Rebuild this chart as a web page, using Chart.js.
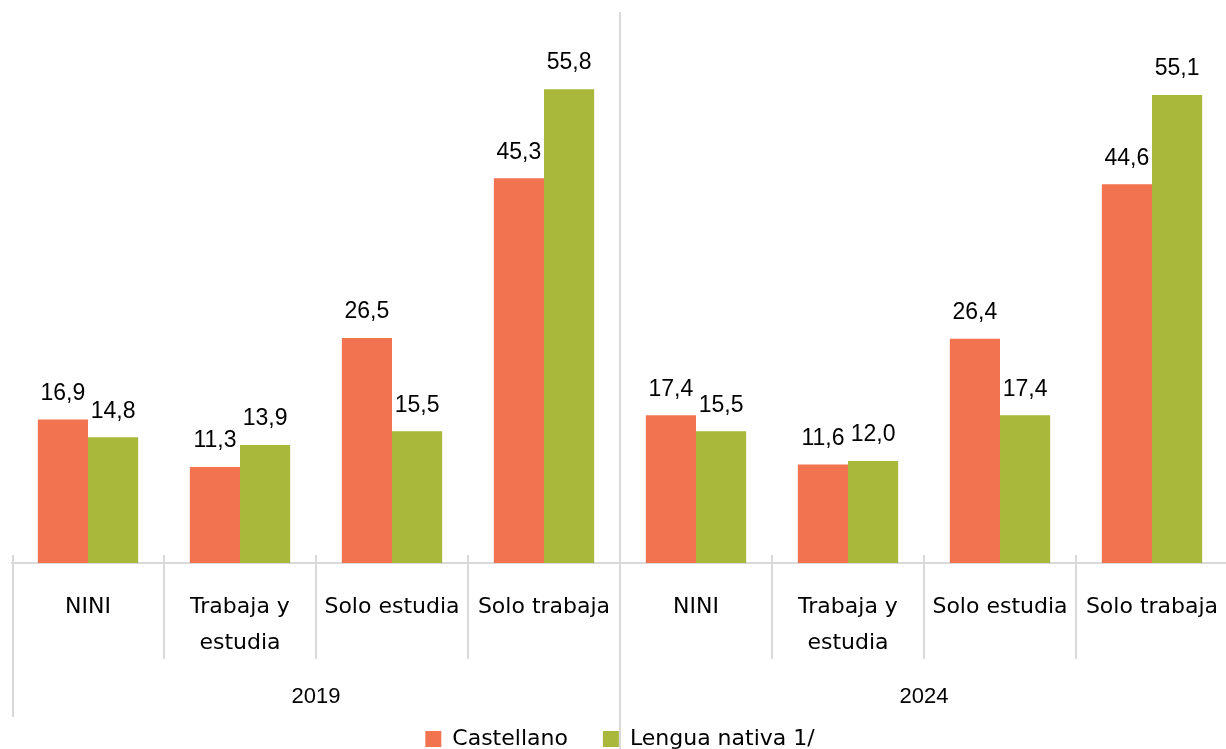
<!DOCTYPE html>
<html>
<head>
<meta charset="utf-8">
<script src="https://cdn.jsdelivr.net/npm/chart.js@4.4.1/dist/chart.umd.min.js"></script>
<style>
  html, body { margin: 0; padding: 0; background: #fff; overflow: hidden; }
  #wrap { position: relative; width: 1228px; height: 760px; }
</style>
</head>
<body>
<div id="wrap"><canvas id="chart"></canvas></div>
<script>
// Datos
const years = ['2019', '2024'];
const categories = ['NINI', ['Trabaja y', 'estudia'], 'Solo estudia', 'Solo trabaja'];
const castellano = [16.9, 11.3, 26.5, 45.3, 17.4, 11.6, 26.4, 44.6];
const nativa = [14.8, 13.9, 15.5, 55.8, 15.5, 12.0, 17.4, 55.1];
const seriesNames = ['Castellano', 'Lengua nativa 1/'];

const ORANGE = '#F2734F';
const GREEN = '#A9B73B';
const LINE = '#d9d9d9';
const labelFont = '"DejaVu Sans", "Noto Sans", sans-serif';
const numFont = '"Liberation Sans", Arial, sans-serif';

const labels = years.flatMap(() => categories);
const fmt = v => v.toFixed(1).replace('.', ',');

// Plugin: etiquetas de datos, separadores y años
const decor = {
  id: 'decor',
  afterDatasetsDraw(chart) {
    const ctx = chart.ctx;
    ctx.save();
    ctx.fillStyle = '#000';
    ctx.font = '23px ' + numFont;
    ctx.textAlign = 'center';
    ctx.textBaseline = 'middle';
    chart.data.datasets.forEach((ds, di) => {
      chart.getDatasetMeta(di).data.forEach((bar, i) => {
        ctx.fillText(fmt(ds.data[i]), bar.x, bar.y - 26);
      });
    });
    ctx.restore();
  },
  afterDraw(chart) {
    const ctx = chart.ctx;
    const xs = chart.scales.x;
    const area = chart.chartArea;
    const half = (xs.getPixelForValue(1) - xs.getPixelForValue(0)) / 2;
    const base = area.bottom;
    const perGroup = categories.length;

    ctx.save();
    ctx.strokeStyle = LINE;
    ctx.lineWidth = 2;
    for (let i = 0; i < labels.length; i++) {
      const x = Math.round(xs.getPixelForValue(i) - half) + (i === 0 ? 1 : 0);
      let y0 = base - 8, y1 = base + 96;
      if (i === 0) y1 = base + 154;
      if (i % perGroup === 0 && i !== 0) { y0 = area.top + 1; y1 = base + 200; }
      ctx.beginPath();
      ctx.moveTo(x, y0);
      ctx.lineTo(x, y1);
      ctx.stroke();
    }

    ctx.fillStyle = '#000';
    ctx.font = '22px ' + numFont;
    ctx.textAlign = 'center';
    ctx.textBaseline = 'middle';
    years.forEach((y, g) => {
      const x = (xs.getPixelForValue(g * perGroup) + xs.getPixelForValue(g * perGroup + perGroup - 1)) / 2;
      ctx.fillText(y, x, base + 134);
    });
    ctx.restore();
  }
};

new Chart(document.getElementById('chart'), {
  type: 'bar',
  data: {
    labels: labels,
    datasets: [
      { label: seriesNames[0], data: castellano, backgroundColor: ORANGE, borderWidth: 0 },
      { label: seriesNames[1], data: nativa, backgroundColor: GREEN, borderWidth: 0 }
    ]
  },
  options: {
    responsive: true,
    maintainAspectRatio: false,
    animation: false,
    layout: { padding: { top: 11, left: 12, right: 0, bottom: 0 } },
    datasets: { bar: { categoryPercentage: 0.66, barPercentage: 1.0 } },
    plugins: {
      legend: {
        position: 'bottom',
        labels: {
          color: '#000',
          font: { size: 22, family: labelFont },
          boxWidth: 16,
          boxHeight: 16,
          padding: 35
        }
      },
      tooltip: { enabled: false }
    },
    scales: {
      x: {
        grid: { display: false },
        border: { display: true, color: LINE, width: 2 },
        ticks: {
          color: '#000',
          font: { size: 22, family: labelFont, lineHeight: 1.6 },
          padding: 19,
          autoSkip: false,
          maxRotation: 0
        },
        afterFit: (scale) => {
          scale.height = 130;
          scale.paddingLeft = 0;
          scale.paddingRight = 0;
        }
      },
      y: {
        display: false,
        min: 0,
        max: 65
      }
    }
  },
  plugins: [decor]
});
</script>
</body>
</html>
